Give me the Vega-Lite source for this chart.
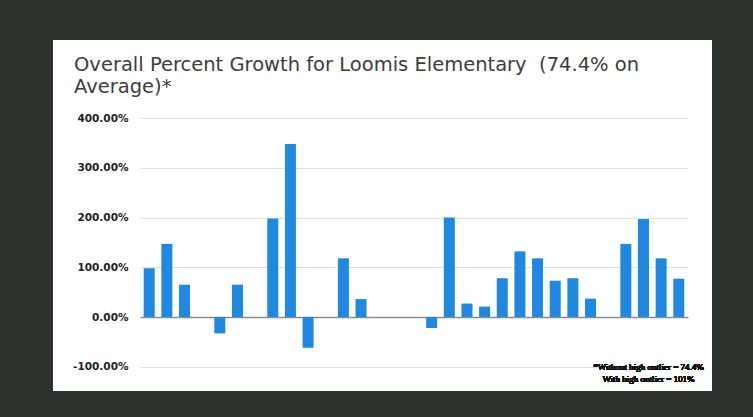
{
  "$schema": "https://vega.github.io/schema/vega-lite/v6.json",
  "width": 659,
  "height": 351,
  "autosize": "none",
  "padding": {"left": 53, "top": 40, "right": 41, "bottom": 26},
  "background": "#2e352f",
  "config": {
    "view": {"fill": "white", "stroke": null}
  },
  "title": {
    "text": ["Overall Percent Growth for Loomis Elementary \u00a0(74.4% on", "Average)*"],
    "anchor": "start",
    "frame": "group",
    "dx": 21,
    "offset": -57,
    "font": "DejaVu Sans",
    "fontSize": 19.5,
    "fontWeight": "normal",
    "color": "#3d3d3d",
    "lineHeight": 22
  },
  "data": {
    "values": [
      {"slot": 1, "growth": 0.98},
      {"slot": 2, "growth": 1.47},
      {"slot": 3, "growth": 0.65},
      {"slot": 4, "growth": null},
      {"slot": 5, "growth": -0.33},
      {"slot": 6, "growth": 0.65},
      {"slot": 7, "growth": null},
      {"slot": 8, "growth": 1.98},
      {"slot": 9, "growth": 3.48},
      {"slot": 10, "growth": -0.62},
      {"slot": 11, "growth": null},
      {"slot": 12, "growth": 1.18},
      {"slot": 13, "growth": 0.36},
      {"slot": 14, "growth": null},
      {"slot": 15, "growth": null},
      {"slot": 16, "growth": null},
      {"slot": 17, "growth": -0.22},
      {"slot": 18, "growth": 2.0},
      {"slot": 19, "growth": 0.27},
      {"slot": 20, "growth": 0.21},
      {"slot": 21, "growth": 0.78},
      {"slot": 22, "growth": 1.32},
      {"slot": 23, "growth": 1.18},
      {"slot": 24, "growth": 0.73},
      {"slot": 25, "growth": 0.78},
      {"slot": 26, "growth": 0.37},
      {"slot": 27, "growth": null},
      {"slot": 28, "growth": 1.47},
      {"slot": 29, "growth": 1.97},
      {"slot": 30, "growth": 1.18},
      {"slot": 31, "growth": 0.77}
    ]
  },
  "encoding": {
    "x": {
      "field": "slot",
      "type": "ordinal",
      "axis": null,
      "scale": {
        "domain": [1,2,3,4,5,6,7,8,9,10,11,12,13,14,15,16,17,18,19,20,21,22,23,24,25,26,27,28,29,30,31],
        "range": [87, 635],
        "paddingInner": 0.377,
        "paddingOuter": 0.21
      }
    },
    "y": {
      "field": "growth",
      "type": "quantitative",
      "scale": {"domain": [-1.487, 5.568], "nice": false, "zero": false},
      "axis": {
        "title": null,
        "values": [-1, 0, 1, 2, 3, 4],
        "labelExpr": "replace(format(datum.value, '.2%'), '\u2212', '-')",
        "offset": -87,
        "domain": false,
        "ticks": false,
        "tickSize": 0,
        "labelPadding": 12,
        "labelFont": "DejaVu Sans",
        "labelFontWeight": "bold",
        "labelFontSize": 10.5,
        "labelColor": "#222222",
        "grid": true,
        "gridColor": {"condition": {"test": "datum.value === 0", "value": "#8c8c8c"}, "value": "#e0e0e0"},
        "gridWidth": {"condition": {"test": "datum.value === 0", "value": 1.5}, "value": 1}
      }
    }
  },
  "layer": [
    {
      "mark": {"type": "bar", "color": "#1f88e0"}
    },
    {
      "mark": {
        "type": "text",
        "text": ["*Without high outlier = 74.4%", "With high outlier = 101%"],
        "font": "Liberation Serif",
        "fontSize": 9,
        "lineHeight": 12,
        "align": "center",
        "baseline": "alphabetic",
        "dx": 5,
        "color": "#111111"
      },
      "encoding": {
        "x": {"datum": 29, "type": "ordinal"},
        "y": {"datum": -1.065, "type": "quantitative"}
      }
    }
  ]
}
